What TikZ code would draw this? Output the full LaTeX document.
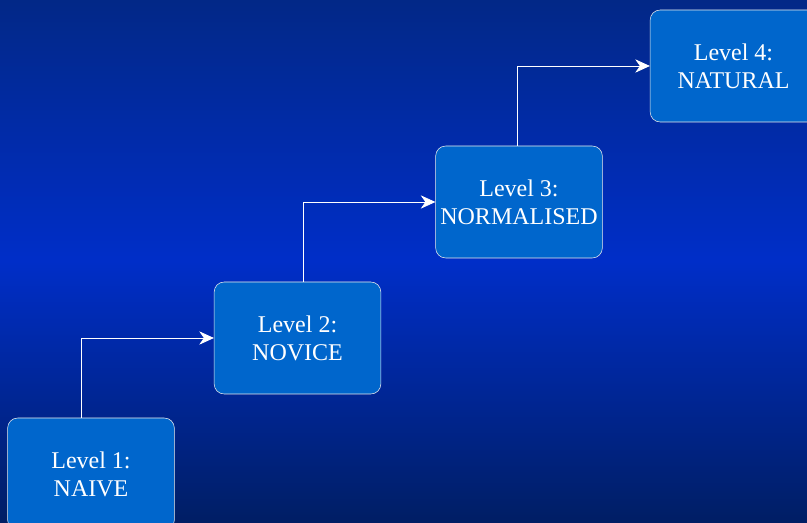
\documentclass[tikz,border=0pt]{standalone}
\usepackage{fontspec}
\setmainfont{Liberation Serif}
\usepackage{tikz}
\usetikzlibrary{arrows.meta, positioning}
\definecolor{bgTop}{RGB}{2,40,135}
\definecolor{bgMid}{RGB}{0,46,200}
\definecolor{bgBot}{RGB}{0,30,100}
\definecolor{levelBlue}{RGB}{0,102,204}

\begin{document}
\begin{tikzpicture}[x=0.75pt,y=-0.75pt,
  level/.style={draw=white!85!gray, fill=levelBlue, rounded corners=7.5pt, minimum width=125pt, minimum height=84pt, align=center, text=white, font=\fontsize{18}{21}\selectfont},
  arr/.style={draw=white, -{Stealth[length=11pt,width=10pt,inset=3.5pt]}, line width=0.6pt}]
  \useasboundingbox (0,0) rectangle (807,523);
  \clip (0,0) rectangle (807,523);
  % background
  \shade[top color=bgTop, bottom color=bgMid] (0,0) rectangle (807,262);
  \shade[top color=bgMid, bottom color=bgBot] (0,261) rectangle (807,523);
  % levels
  \node[level] (lvl1) at (91,474){Level 1:\\NAIVE};
  \node[level] (lvl2) at (297.5,338){Level 2:\\NOVICE};
  \node[level] (lvl3) at (519,202){Level 3:\\NORMALISED};
  \node[level] (lvl4) at (733.5,66){Level 4:\\NATURAL};
  % steps
  \draw[arr]([xshift=-7.5pt]lvl1.north) |- (lvl2);
  \draw[arr]([xshift=4.5pt]lvl2.north) |- (lvl3);
  \draw[arr]([xshift=-1.5pt]lvl3.north) |- (lvl4);
\end{tikzpicture}
\end{document}
